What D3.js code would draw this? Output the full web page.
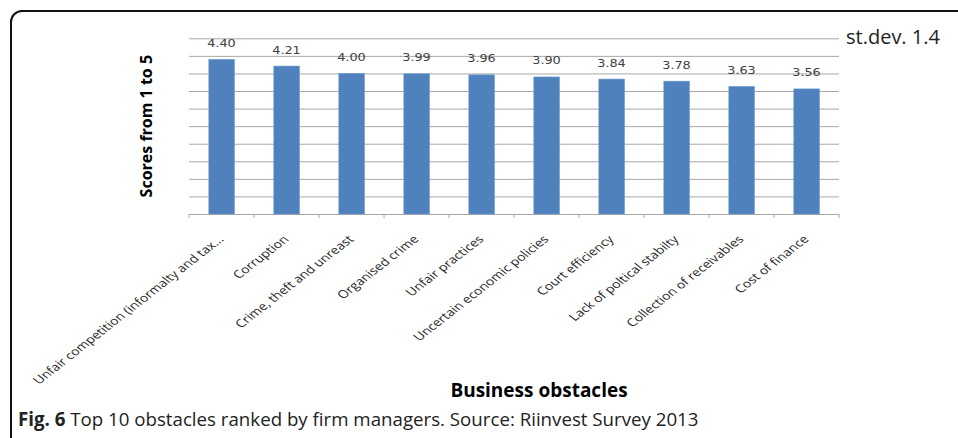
<!DOCTYPE html>
<html>
<head>
<meta charset="utf-8">
<script src="https://cdn.jsdelivr.net/npm/d3@7"></script>
<style>
  html, body { margin: 0; padding: 0; background: #fff; }
  svg { display: block; }
</style>
</head>
<body>
<svg id="chart" width="958" height="438"></svg>
<script>
const categories = [
  "Unfair competition (informalty and tax...",
  "Corruption",
  "Crime, theft and unreast",
  "Organised crime",
  "Unfair practices",
  "Uncertain economic policies",
  "Court efficiency",
  "Lack of poltical stabilty",
  "Collection of receivables",
  "Cost of finance"
];
const scores = [4.40, 4.21, 4.00, 3.99, 3.96, 3.90, 3.84, 3.78, 3.63, 3.56];
const gridValues = [0, 0.5, 1, 1.5, 2, 2.5, 3, 3.5, 4, 4.5, 5];
const yTitle = "Scores from 1 to 5";
const xTitle = "Business obstacles";
const noteText = "st.dev. 1.4";
const captionBold = "Fig. 6";
const captionText = " Top 10 obstacles ranked by firm managers. Source: Riinvest Survey 2013";

const svg = d3.select("#chart");
const stretch = 1.28;

// frame
svg.append("rect")
  .attr("x", 11).attr("y", 11).attr("width", 1100).attr("height", 600)
  .attr("rx", 11).attr("ry", 11)
  .attr("fill", "none").attr("stroke", "#111").attr("stroke-width", 2);

const x = d3.scaleBand().domain(categories).range([189, 839]).padding(0);
const y = d3.scaleLinear().domain([0, 5]).range([214, 38.3]);
const bw = x.bandwidth();

// gridlines
const grid = svg.append("g")
  .attr("transform", `translate(${x.range()[0]},0)`)
  .call(d3.axisLeft(y).tickValues(gridValues).tickSize(-(x.range()[1] - x.range()[0])).tickFormat(""));
grid.select(".domain").remove();
grid.selectAll(".tick line").attr("stroke", "#a8a8a8").attr("stroke-width", 1);

// x ticks at band boundaries
const bounds = categories.map(c => x(c)).concat([x.range()[1]]);
svg.append("g").selectAll("line").data(bounds).join("line")
  .attr("x1", d => d).attr("x2", d => d)
  .attr("y1", y(0)).attr("y2", y(0) + 4)
  .attr("stroke", "#a8a8a8");

// bars
svg.append("g").selectAll("rect").data(categories).join("rect")
  .attr("x", (c) => x(c) + bw * 0.305)
  .attr("width", bw * 0.395)
  .attr("y", (c, i) => y(scores[i]))
  .attr("height", (c, i) => y(0) - y(scores[i]))
  .attr("fill", "#4f81bd")
  .attr("stroke", "#6f9bd1").attr("stroke-width", 0.6);

// value labels
svg.append("g").selectAll("text").data(categories).join("text")
  .attr("transform", (c, i) => `translate(${x(c) + bw / 2},${y(scores[i]) - 12.5}) scale(${stretch},1)`)
  .attr("text-anchor", "middle")
  .attr("font-family", "DejaVu Sans")
  .attr("font-size", 10)
  .attr("fill", "#404040")
  .text((c, i) => scores[i].toFixed(2));

// category labels
svg.append("g").selectAll("text").data(categories).join("text")
  .attr("transform", c => `translate(${x(c) + bw / 2 + 3},${y(0) + 26}) scale(${stretch},1) rotate(-45)`)
  .attr("text-anchor", "end")
  .attr("font-family", "Open Sans")
  .attr("font-size", 11)
  .attr("fill", "#262626")
  .text(c => c);

// y title
svg.append("text")
  .attr("transform", `translate(152,${(y(0) + y(5)) / 2}) rotate(-90)`)
  .attr("text-anchor", "middle")
  .attr("font-family", "Open Sans")
  .attr("font-weight", "bold")
  .attr("font-size", 16)
  .attr("fill", "#000")
  .text(yTitle);

// x title
svg.append("text")
  .attr("x", 539).attr("y", 396.5)
  .attr("text-anchor", "middle")
  .attr("font-family", "Open Sans")
  .attr("font-weight", "bold")
  .attr("font-size", 19)
  .attr("fill", "#000")
  .text(xTitle);

// note
svg.append("text")
  .attr("x", 846).attr("y", 43.5)
  .attr("font-family", "Open Sans")
  .attr("font-size", 20)
  .attr("fill", "#222")
  .text(noteText);

// caption
const cap = svg.append("text")
  .attr("x", 18).attr("y", 426)
  .attr("font-family", "Open Sans")
  .attr("font-size", 18.7)
  .attr("fill", "#222");
cap.append("tspan").attr("font-weight", "bold").text(captionBold);
cap.append("tspan").text(captionText);
</script>
</body>
</html>
